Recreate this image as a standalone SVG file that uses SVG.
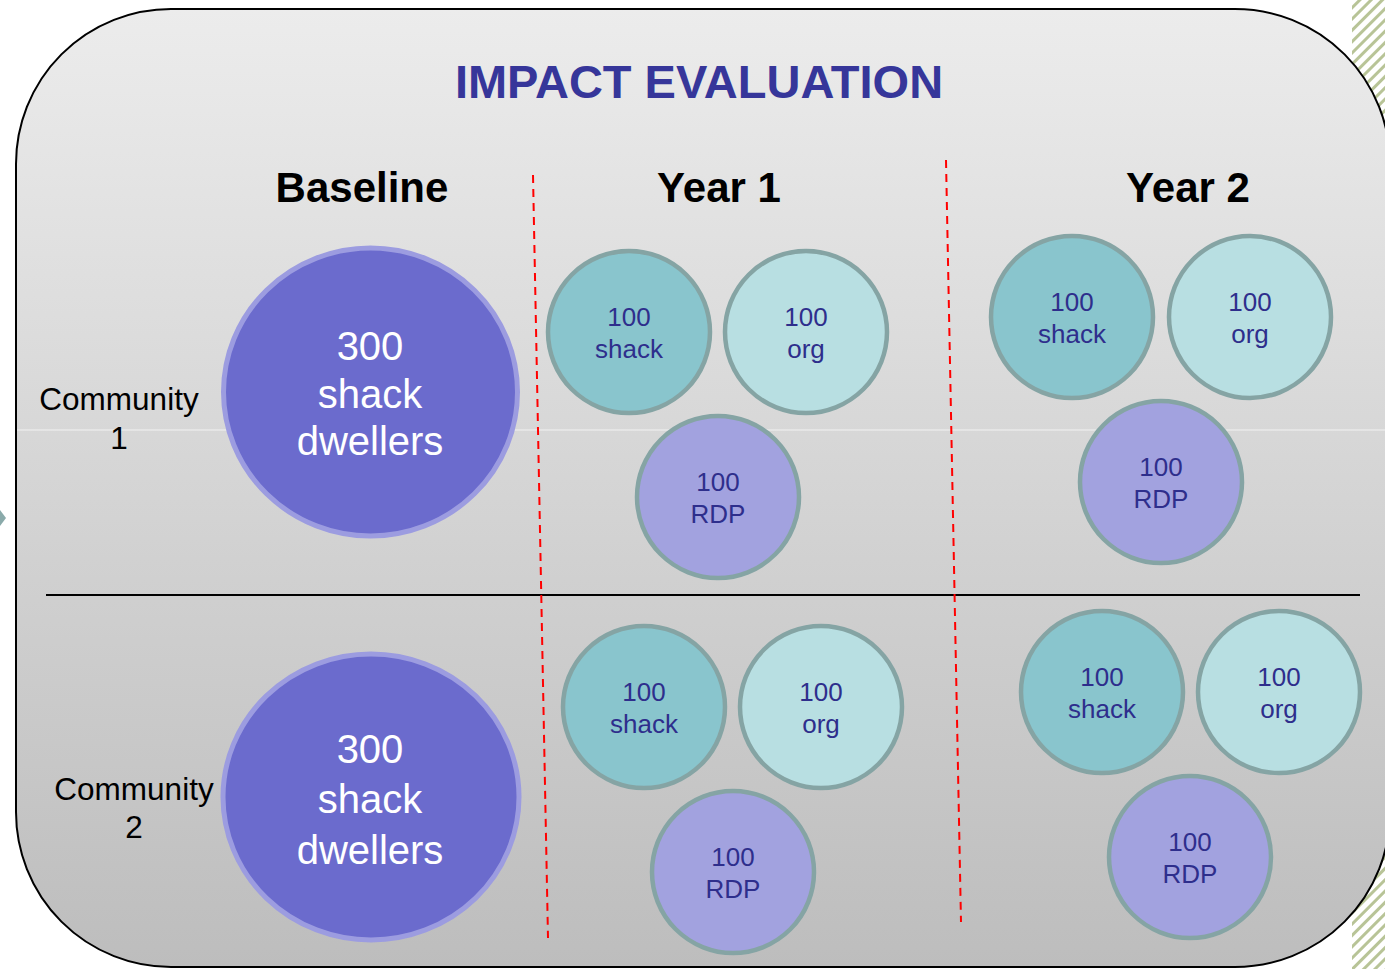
<svg xmlns="http://www.w3.org/2000/svg" width="1385" height="969" viewBox="0 0 1385 969">
<defs>
<linearGradient id="bg" x1="0" y1="0" x2="0" y2="1">
<stop offset="0" stop-color="#ececec"/>
<stop offset="1" stop-color="#bdbdbd"/>
</linearGradient>
<pattern id="hatch" width="8" height="8" patternUnits="userSpaceOnUse" patternTransform="rotate(45)">
<rect width="8" height="8" fill="#ffffff"/>
<rect width="3" height="8" fill="#b8c497"/>
</pattern>
<style>
.lbl{font-family:"Liberation Sans",Arial,sans-serif;text-anchor:middle}
.head{font-size:42px;font-weight:bold;fill:#000}
.comm{font-size:31.5px;fill:#000}
.big{fill:#6b6bcd;stroke:#9c9ce0;stroke-width:5}
.bigt{font-size:40px;fill:#fff}
.sm{stroke:#85a4a4;stroke-width:4.5}
.shack{fill:#89c5cd}
.org{fill:#b8dfe2}
.rdp{fill:#a2a2df}
.smt{font-size:26px;fill:#2e2e8c}
.red{stroke:#ff0000;stroke-width:2;stroke-dasharray:8,6;fill:none}
</style>
</defs>
<rect x="1352" y="0" width="33" height="969" fill="url(#hatch)"/>
<polygon points="0,510 6,518 0,526" fill="#8aaaaa"/>
<rect id="panel" x="16" y="9" width="1374" height="958" rx="155" ry="155" fill="url(#bg)" stroke="#000" stroke-width="2"/>
<line x1="17" y1="430" x2="1385" y2="430" stroke="#f2f2f2" stroke-width="1"/>
<g id="connectors">
<line x1="46" y1="595" x2="1360" y2="595" stroke="#000" stroke-width="2"/>
<line class="red" x1="533" y1="175" x2="548" y2="938"/>
<line class="red" x1="946" y1="160" x2="961" y2="922"/>
</g>
<g id="title"><text class="lbl" x="699" y="98" font-size="47" font-weight="bold" fill="#36369a">IMPACT EVALUATION</text></g>
<g id="headers">
<text class="lbl head" x="362" y="202">Baseline</text>
<text class="lbl head" x="719" y="202">Year 1</text>
<text class="lbl head" x="1188" y="202">Year 2</text>
</g>
<g id="community1"><text class="lbl comm" x="119" y="410">Community</text><text class="lbl comm" x="119" y="449">1</text></g>
<g id="community2"><text class="lbl comm" x="134" y="800">Community</text><text class="lbl comm" x="134" y="838">2</text></g>
<g id="base1"><ellipse class="big" cx="370.5" cy="392" rx="147" ry="144"/>
<text class="lbl bigt" x="370" y="360">300</text><text class="lbl bigt" x="370" y="408">shack</text><text class="lbl bigt" x="370" y="455">dwellers</text></g>
<g id="base2"><ellipse class="big" cx="371" cy="797" rx="148" ry="143"/>
<text class="lbl bigt" x="370" y="763" font-size="42.5">300</text><text class="lbl bigt" x="370" y="813" font-size="42.5">shack</text><text class="lbl bigt" x="370" y="864" font-size="42.5">dwellers</text></g>
<g id="y1c1shack"><circle class="sm shack" cx="629" cy="332" r="81"/><text class="lbl smt" x="629" y="326">100</text><text class="lbl smt" x="629" y="358">shack</text></g>
<g id="y1c1org"><circle class="sm org" cx="806" cy="332" r="81"/><text class="lbl smt" x="806" y="326">100</text><text class="lbl smt" x="806" y="358">org</text></g>
<g id="y1c1rdp"><circle class="sm rdp" cx="718" cy="497" r="81"/><text class="lbl smt" x="718" y="491">100</text><text class="lbl smt" x="718" y="523">RDP</text></g>
<g id="y2c1shack"><circle class="sm shack" cx="1072" cy="317" r="81"/><text class="lbl smt" x="1072" y="311">100</text><text class="lbl smt" x="1072" y="343">shack</text></g>
<g id="y2c1org"><circle class="sm org" cx="1250" cy="317" r="81"/><text class="lbl smt" x="1250" y="311">100</text><text class="lbl smt" x="1250" y="343">org</text></g>
<g id="y2c1rdp"><circle class="sm rdp" cx="1161" cy="482" r="81"/><text class="lbl smt" x="1161" y="476">100</text><text class="lbl smt" x="1161" y="508">RDP</text></g>
<g id="y1c2shack"><circle class="sm shack" cx="644" cy="707" r="81"/><text class="lbl smt" x="644" y="701">100</text><text class="lbl smt" x="644" y="733">shack</text></g>
<g id="y1c2org"><circle class="sm org" cx="821" cy="707" r="81"/><text class="lbl smt" x="821" y="701">100</text><text class="lbl smt" x="821" y="733">org</text></g>
<g id="y1c2rdp"><circle class="sm rdp" cx="733" cy="872" r="81"/><text class="lbl smt" x="733" y="866">100</text><text class="lbl smt" x="733" y="898">RDP</text></g>
<g id="y2c2shack"><circle class="sm shack" cx="1102" cy="692" r="81"/><text class="lbl smt" x="1102" y="686">100</text><text class="lbl smt" x="1102" y="718">shack</text></g>
<g id="y2c2org"><circle class="sm org" cx="1279" cy="692" r="81"/><text class="lbl smt" x="1279" y="686">100</text><text class="lbl smt" x="1279" y="718">org</text></g>
<g id="y2c2rdp"><circle class="sm rdp" cx="1190" cy="857" r="81"/><text class="lbl smt" x="1190" y="851">100</text><text class="lbl smt" x="1190" y="883">RDP</text></g>
</svg>
